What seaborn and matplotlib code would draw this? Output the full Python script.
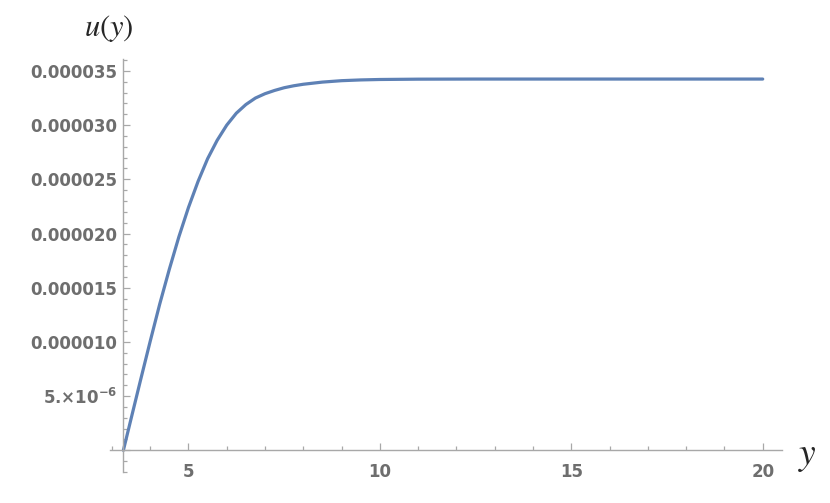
import numpy as np
import pandas as pd
import matplotlib
matplotlib.use("Agg")
import matplotlib.pyplot as plt
from matplotlib.ticker import FixedLocator, MultipleLocator, FixedFormatter
import seaborn as sns

# valeurs
y_pos = [3.30, 3.50, 3.75, 4.00, 4.25, 4.50, 4.75, 5.00, 5.25, 5.50, 5.75,
         6.00, 6.25, 6.50, 6.75, 7.00, 7.25, 7.50, 7.75, 8.00, 8.50, 9.00,
         9.50, 10.0, 11.0, 12.5, 15.0, 17.5, 20.0]
u_vals = [0.00, 0.29, 0.65, 1.005, 1.35, 1.67, 1.97, 2.24, 2.48, 2.69, 2.86,
          3.00, 3.11, 3.19, 3.25, 3.29, 3.32, 3.345, 3.363, 3.377, 3.397, 3.41,
          3.417, 3.421, 3.424, 3.425, 3.425, 3.425, 3.425]
u_vals = [v * 1e-5 for v in u_vals]

x_ticks = [5, 10, 15, 20]
y_ticks = [0, 5e-6, 1e-5, 1.5e-5, 2e-5, 2.5e-5, 3e-5, 3.5e-5]
y_labels = ["", r"5.×10$^{\mathbf{-6}}$", "0.000010", "0.000015",
            "0.000020", "0.000025", "0.000030", "0.000035"]

df = pd.DataFrame({"y": y_pos, "u": u_vals})

sns.set_style("white")
plt.rcParams["font.family"] = ["DejaVu Sans"]
plt.rcParams["mathtext.fontset"] = "dejavusans"
fig = plt.figure(figsize=(8.3, 5.03), dpi=100)
ax = fig.add_axes([0.1325, 0.0616, 0.942 - 0.1325, 0.8827 - 0.0616])

sns.lineplot(data=df, x="y", y="u", ax=ax, color="#5E81B5", linewidth=2.3)

ax.set_xlim(2.95, 20.5)
ax.set_ylim(-2.0e-6, 3.61e-5)

axis_col = "#a8a8a8"
for s in ["top", "right"]:
    ax.spines[s].set_visible(False)
ax.spines["left"].set_position(("data", 3.3))
ax.spines["bottom"].set_position(("data", 0))
for s in ["left", "bottom"]:
    ax.spines[s].set_color(axis_col)
    ax.spines[s].set_linewidth(1.0)

ax.xaxis.set_major_locator(FixedLocator(x_ticks))
ax.xaxis.set_minor_locator(MultipleLocator(1))
ax.yaxis.set_major_locator(FixedLocator(y_ticks))
ax.yaxis.set_major_formatter(FixedFormatter(y_labels))
ax.yaxis.set_minor_locator(MultipleLocator(1e-6))

ax.tick_params(which="both", direction="in", color=axis_col, width=0.9,
               bottom=True, left=True, top=False, right=False)
ax.tick_params(which="major", length=5)
ax.tick_params(which="minor", length=3)
ax.tick_params(axis="x", which="major", pad=9)
ax.tick_params(axis="y", which="major", pad=4.5)
for lab in ax.get_xticklabels() + ax.get_yticklabels():
    lab.set_fontsize(12)
    lab.set_fontweight("bold")
    lab.set_color("#6e6e6e")

ax.set_xlabel("")
ax.set_ylabel("")
fig.text(0.131, 0.944, r"$u(y)$", fontsize=22, ha="center", va="center",
         math_fontfamily="stix")
fig.text(0.973, 0.093, r"$y$", fontsize=27, ha="center", va="center",
         math_fontfamily="stix")

plt.savefig("out.png", dpi=100)
